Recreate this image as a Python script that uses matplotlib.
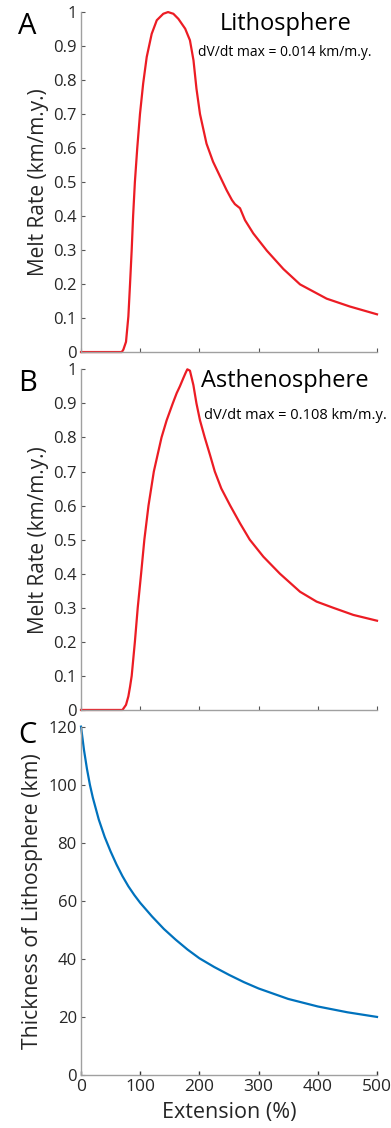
import matplotlib
matplotlib.use('Agg')
import matplotlib.pyplot as plt

plt.rcParams['font.family'] = ['Open Sans', 'DejaVu Sans']

# ---------------------------------------------------------------
# melt rate, normalised, lithosphere source
lith_ext = [0, 68.8, 71.5, 76, 80, 82.8, 85.6, 88, 91, 95, 99.6, 105, 111, 119.4, 128,
            139, 147, 156, 164.5, 176, 184, 190, 195, 201, 212, 223, 235, 246, 255, 260,
            268.6, 277, 291, 314, 342, 370, 415, 454, 500]
lith_rate = [0, 0, 0.007, 0.03, 0.105, 0.2, 0.3, 0.4, 0.5, 0.6, 0.7, 0.79, 0.868, 0.936,
             0.976, 0.995, 1.0, 0.995, 0.98, 0.951, 0.917, 0.858, 0.775, 0.70, 0.613,
             0.56, 0.516, 0.476, 0.447, 0.435, 0.423, 0.388, 0.349, 0.298, 0.244, 0.199,
             0.157, 0.134, 0.111]

# melt rate, normalised, asthenosphere source
asth_ext = [0, 70, 76, 80, 82.8, 85.6, 91, 95.8, 101.5, 107, 114, 123, 136, 144.6, 155,
            161.6, 167, 172.8, 176.8, 179.6, 184, 189.8, 195, 201, 209, 218, 226, 237,
            252, 268.6, 285, 308, 336, 370, 398, 426, 460, 500]
asth_rate = [0, 0, 0.015, 0.04, 0.068, 0.1, 0.2, 0.3, 0.4, 0.5, 0.6, 0.7, 0.8, 0.85, 0.9,
             0.93, 0.95, 0.974, 0.99, 1.0, 0.996, 0.954, 0.9, 0.85, 0.8, 0.748, 0.7, 0.65,
             0.6, 0.548, 0.5, 0.45, 0.4, 0.347, 0.318, 0.3, 0.279, 0.262]

# lithosphere thickness vs extension
thick_ext = [0, 5, 10, 15, 20, 30, 40, 50, 60, 70, 80, 90, 100, 120, 140, 160, 180, 200,
             225, 250, 275, 300, 350, 400, 450, 500]
thick_km = [120, 112, 105.5, 100, 95.5, 88, 82, 77, 72.5, 68.5, 65, 62, 59.3, 54.6, 50.3,
            46.6, 43.2, 40.2, 37.2, 34.5, 32, 29.8, 26.2, 23.6, 21.6, 20]

melt_ticks = [0, 0.1, 0.2, 0.3, 0.4, 0.5, 0.6, 0.7, 0.8, 0.9, 1]
melt_labels = ['0', '0.1', '0.2', '0.3', '0.4', '0.5', '0.6', '0.7', '0.8', '0.9', '1']
ext_ticks = [0, 100, 200, 300, 400, 500]
thick_ticks = [0, 20, 40, 60, 80, 100, 120]

RED = '#ec1c24'
BLUE = '#0072bd'
SPINE = '#a0a0a0'
TEXT = '#262626'


def style_axes(ax):
    for side in ['top', 'right']:
        ax.spines[side].set_visible(False)
    for side in ['left', 'bottom']:
        ax.spines[side].set_color(SPINE)
        ax.spines[side].set_linewidth(1.0)
    ax.tick_params(direction='in', length=3, width=0.8, color='#555555',
                   labelsize=12, labelcolor=TEXT, pad=3)
    ax.set_xlim(0, 500)
    ax.set_xticks(ext_ticks)


def melt_panel(ax, ext, rate, letter, title, note, note_x, note_y, note_size):
    style_axes(ax)
    ax.plot(ext, rate, color=RED, lw=1.6, clip_on=False)
    ax.set_ylim(0, 1)
    ax.set_yticks(melt_ticks)
    ax.set_yticklabels(melt_labels)
    ax.set_xticklabels([])
    ax.set_ylabel('Melt Rate (km/m.y.)', fontsize=15, color=TEXT, labelpad=3)
    ax.text(-0.182, 1.0, letter, transform=ax.transAxes, fontsize=21, color='black',
            ha='center', va='top')
    ax.text(0.69, 1.0, title, transform=ax.transAxes, fontsize=17, color='black',
            ha='center', va='top')
    ax.text(note_x, note_y, note, transform=ax.transAxes, fontsize=note_size,
            color='black', ha='center', va='top')


fig = plt.figure(figsize=(3.91, 11.28), dpi=100)

ax_a = fig.add_axes([0.2072, 0.6879, 0.757, 0.3014])
melt_panel(ax_a, lith_ext, lith_rate, 'A', 'Lithosphere',
           'dV/dt max = 0.014 km/m.y.', 0.69, 0.902, 10)

ax_b = fig.add_axes([0.2072, 0.3706, 0.757, 0.302])
melt_panel(ax_b, asth_ext, asth_rate, 'B', 'Asthenosphere',
           'dV/dt max = 0.108 km/m.y.', 0.726, 0.885, 10.5)

ax_c = fig.add_axes([0.2072, 0.047, 0.757, 0.3088])
style_axes(ax_c)
ax_c.plot(thick_ext, thick_km, color=BLUE, lw=1.6, clip_on=False)
ax_c.set_ylim(0, 120)
ax_c.set_yticks(thick_ticks)
ax_c.tick_params(axis='x', color='#333333', width=1.0, labelsize=12.5)
ax_c.set_xlabel('Extension (%)', fontsize=15.5, color=TEXT, labelpad=5)
ax_c.set_ylabel('Thickness of Lithosphere (km)', fontsize=15.3, color=TEXT, labelpad=4)
ax_c.text(-0.182, 1.015, 'C', transform=ax_c.transAxes, fontsize=21, color='black',
          ha='center', va='top')

fig.savefig('out.png', dpi=100)
